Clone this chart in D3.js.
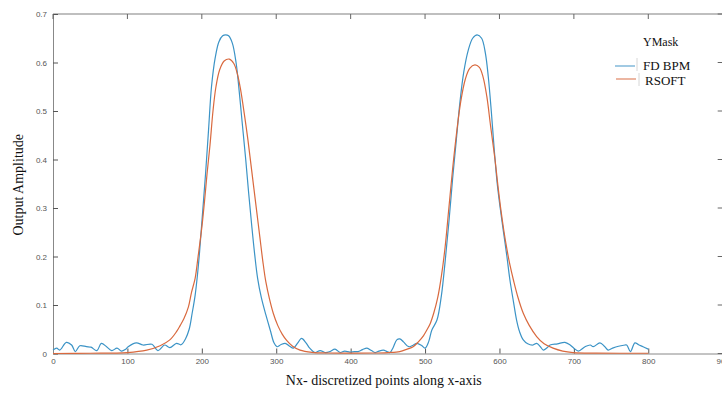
<!DOCTYPE html>
<html>
<head>
<meta charset="utf-8">
<script src="https://cdn.jsdelivr.net/npm/d3@7"></script>
<style>
  body { margin: 0; background: #fff; }
  .tk text { font-family: "Liberation Sans", Arial, sans-serif; font-size: 8px; fill: #555; }
  .tk line { stroke: #555; }
  .tk path { stroke: #888; }
  .lbl { font-family: "Liberation Serif", "Times New Roman", serif; fill: #111; }
</style>
</head>
<body>
<svg id="chart" width="722" height="393"></svg>
<script>
// FD BPM curve, [x, amplitude]
var fdbpm = [
  [0,0.007],[5,0.011],[9,0.007],[18,0.023],[25,0.0175],[30,0.004],[36,0.016],[45,0.014],[51,0.013],
  [59,0.006],[65,0.021],[72,0.014],[79,0.006],[86,0.011],[92,0.005],[97,0.008],[101,0.014],[112,0.022],
  [121,0.0175],[133,0.019],[141,0.006],[150,0.0175],[157,0.012],[166,0.021],[172,0.018],[178,0.030],
  [183,0.050],[187,0.083],[191,0.12],[194,0.16],[197,0.21],[201,0.29],[205,0.37],[209,0.46],[213,0.55],
  [218,0.61],[223,0.643],[228,0.655],[232,0.657],[236,0.655],[241,0.640],[246,0.60],[249,0.56],[254,0.48],
  [259,0.40],[263,0.33],[267,0.265],[271,0.205],[275,0.155],[280,0.115],[286,0.080],[292,0.048],[297,0.022],
  [301,0.014],[306,0.018],[312,0.021],[318,0.015],[323,0.011],[329,0.022],[334,0.031],[340,0.022],
  [345,0.011],[352,0.002],[359,0.006],[366,0.002],[372,0.004],[379,0.009],[386,0.002],[392,0.005],
  [399,0.003],[405,0.004],[410,0.004],[416,0.008],[422,0.011],[428,0.006],[433,0.002],[438,0.005],
  [444,0.007],[449,0.004],[453,0.002],[457,0.012],[462,0.028],[466,0.030],[471,0.024],[478,0.014],
  [484,0.017],[489,0.021],[495,0.017],[500,0.011],[505,0.025],[509,0.048],[516,0.069],[522,0.12],
  [527,0.19],[532,0.27],[537,0.36],[542,0.44],[547,0.52],[552,0.58],[558,0.625],[564,0.65],[570,0.657],
  [576,0.65],[581,0.62],[585,0.57],[589,0.50],[593,0.42],[597,0.35],[601,0.30],[605,0.255],[610,0.20],
  [614,0.152],[619,0.105],[623,0.069],[627,0.045],[632,0.028],[638,0.020],[645,0.0175],[650,0.021],
  [655,0.014],[659,0.007],[664,0.012],[668,0.0175],[678,0.020],[688,0.023],[695,0.0175],[700,0.011],
  [706,0.005],[715,0.014],[722,0.0175],[726,0.014],[735,0.022],[741,0.015],[746,0.007],[752,0.011],
  [760,0.015],[767,0.017],[771,0.0175],[776,0.004],[782,0.022],[787,0.018],[793,0.014],[800,0.009]
];

// RSOFT curve, [x, amplitude]
var rsoft = [
  [0,0.0],[50,0.0005],[100,0.002],[126,0.007],[144,0.016],[157,0.028],[166,0.045],[171,0.058],
  [176,0.072],[182,0.096],[186,0.125],[191,0.155],[195,0.2],[200,0.26],[204,0.32],[207,0.37],
  [211,0.43],[215,0.50],[219,0.55],[224,0.585],[230,0.603],[237,0.607],[243,0.598],[248,0.575],
  [252,0.545],[257,0.495],[262,0.44],[266,0.39],[270,0.34],[274,0.29],[278,0.24],[282,0.19],
  [286,0.148],[291,0.112],[296,0.083],[302,0.058],[308,0.040],[314,0.027],[322,0.015],[332,0.007],
  [348,0.0025],[370,0.001],[400,0.0008],[430,0.001],[450,0.002],[466,0.004],[476,0.009],[484,0.014],
  [491,0.024],[498,0.037],[503,0.05],[507,0.062],[512,0.085],[517,0.115],[522,0.16],[527,0.22],
  [532,0.30],[537,0.38],[542,0.45],[548,0.52],[554,0.565],[560,0.588],[567,0.595],[573,0.59],
  [578,0.57],[583,0.53],[588,0.47],[594,0.40],[598,0.345],[602,0.295],[606,0.252],[610,0.215],
  [614,0.183],[619,0.150],[625,0.115],[632,0.083],[640,0.058],[650,0.035],[660,0.02],[672,0.011],
  [685,0.005],[699,0.002],[730,0.0008],[800,0.0005]
];

var xTicks = [0,100,200,300,400,500,600,700,800,900];
var yTicks = [0,0.1,0.2,0.3,0.4,0.5,0.6,0.7];
var seriesNames = ["FD BPM","RSOFT"];
var legendTitle = "YMask";

function makeChart(){
    var svg = d3.select("#chart");
    var left = 53, right = 722.7, top = 14, bottom = 353.5;
    var colors = ["#3b93c6","#d9693e"];

    var scX = d3.scaleLinear().domain([0,900]).range([left,right]);
    var scY = d3.scaleLinear().domain([0,0.7]).range([bottom,top]);

    // box
    svg.append("line").attr("x1",left).attr("x2",right).attr("y1",top).attr("y2",top)
        .attr("stroke","#aaa").attr("stroke-width",1.6);
    svg.append("line").attr("x1",right).attr("x2",right).attr("y1",top).attr("y2",bottom)
        .attr("stroke","#aaa");

    svg.append("g").attr("class","tk")
        .attr("transform","translate(0," + bottom + ")")
        .call(d3.axisBottom(scX).tickValues(xTicks).tickSize(-5).tickSizeOuter(0).tickPadding(5));

    svg.append("g").attr("class","tk")
        .attr("transform","translate(" + left + ",0)")
        .call(d3.axisLeft(scY).tickValues(yTicks).tickSize(-5).tickSizeOuter(0).tickPadding(6)
              .tickFormat(d3.format("")));

    // ticks on top and right (MATLAB box)
    svg.append("g").selectAll("line").data(xTicks).enter().append("line")
        .attr("x1",d => scX(d)).attr("x2",d => scX(d))
        .attr("y1",top).attr("y2",top+5).attr("stroke","#666");
    svg.append("g").selectAll("line").data(yTicks).enter().append("line")
        .attr("x1",right).attr("x2",right-5)
        .attr("y1",d => scY(d)).attr("y2",d => scY(d)).attr("stroke","#666");

    var lineMaker = d3.line()
        .x(d => scX(d[0]))
        .y(d => scY(d[1]))
        .curve(d3.curveCatmullRom.alpha(0.5));

    [fdbpm, rsoft].forEach(function(s,i){
        svg.append("path")
            .attr("fill","none").attr("stroke",colors[i]).attr("stroke-width",1.2)
            .attr("d",lineMaker(s));
    });

    // axis labels
    svg.append("text").attr("class","lbl")
        .attr("x",(left+right)/2 - 4).attr("y",385)
        .attr("text-anchor","middle").style("font-size","14px")
        .text("Nx- discretized points along x-axis");

    svg.append("text").attr("class","lbl")
        .attr("transform","translate(23," + ((top+bottom)/2 + 1) + ") rotate(-90)")
        .attr("text-anchor","middle").style("font-size","14px")
        .text("Output Amplitude");

    // legend
    var leg = svg.append("g");
    leg.append("text").attr("class","lbl").attr("x",643).attr("y",46)
        .style("font-size","12px").text(legendTitle);
    var legY = [66,79];
    var legTextY = [70,85];
    seriesNames.forEach(function(n,i){
        leg.append("line").attr("x1",615+i).attr("x2",635+i)
            .attr("y1",legY[i]).attr("y2",legY[i])
            .attr("stroke",colors[i]).attr("stroke-width",1.2).attr("opacity",0.8);
        leg.append("line").attr("x1",637+i*2).attr("x2",637+i*2)
            .attr("y1",legTextY[i]-12).attr("y2",legTextY[i]+1)
            .attr("stroke","#ccc").attr("stroke-width",0.8);
        leg.append("text").attr("class","lbl").attr("x",643+i*2).attr("y",legTextY[i])
            .style("font-size","13px").text(n);
    });
}

makeChart();
</script>
</body>
</html>
